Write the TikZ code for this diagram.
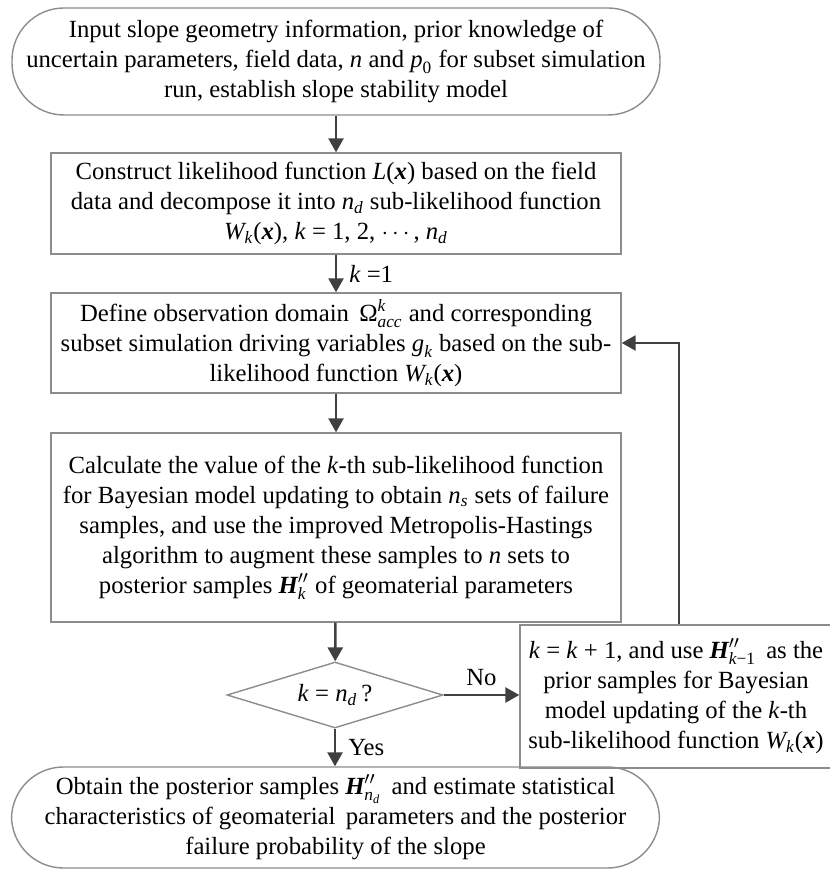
\documentclass[tikz,border=0pt]{standalone}
\usepackage{amsmath}
\usepackage{fontspec}
\setmainfont{Liberation Serif}
\usetikzlibrary{shapes.geometric}
\usetikzlibrary{arrows.meta}
\definecolor{boxgray}{RGB}{140,140,140}
\definecolor{arrowgray}{RGB}{64,64,64}
\newcommand{\mi}[1]{\text{\itshape #1}}
\newcommand{\mb}[1]{\text{\bfseries\itshape #1}}
\newcommand{\vx}{(\textbf{\textit{x}})}
\newcommand{\Hpp}[1]{$\mb{H}''_{#1}$}

\begin{document}
\begin{tikzpicture}[x=0.5pt, y=-0.5pt, >={Triangle[length=7pt,width=7.5pt]}]
    \fontsize{12.35pt}{15pt}\selectfont

    \tikzstyle{blk} = [rectangle, draw=boxgray, line width=0.7pt, align=center, inner sep=0pt, minimum width=285pt]
    \tikzstyle{term} = [blk, rounded corners=26pt, minimum width=324pt]
    \tikzstyle{dec} = [diamond, draw=boxgray, line width=0.7pt, aspect=3.3, inner sep=0pt, minimum width=108pt, minimum height=33pt]
    \tikzstyle{lab} = [rectangle, inner sep=2pt]
    \tikzstyle{connector} = [->, draw=arrowgray, line width=1.3pt]

    \useasboundingbox (0,0) rectangle (829,871);

    % Node placement at coordinates %%%%%%%%%%%%%%%%%%%%%%%%%%%%%%%%%%%%%%%%%%%%%%%%%%%%%
    \node[term, minimum height=53.5pt] (start) at (336,61.5)
      {Input slope geometry information, prior knowledge of\\
       uncertain parameters, field data, \textit{n} and $\mi{p}_{\text{0}}$ for subset simulation\\
       run, establish slope stability model};

    \node[blk, minimum height=50.5pt] (like) at (336,203.5)
      {Construct likelihood function \textit{L}\vx{} based on the field\\
       data and decompose it into $\mi{n}_{\mi{d}}$ sub-likelihood function\\
       $\mi{W}_{\mi{k}}$\vx, \textit{k} = 1, 2, $\cdots$, $\mi{n}_{\mi{d}}$};

    \node[blk, minimum height=50pt] (domain) at (336,343)
      {Define observation domain \,$\text{Ω}^{\mi{k}}_{\mi{acc}}$ and corresponding\\
       subset simulation driving variables $\mi{g}_{\mi{k}}$ based on the sub-\\
       likelihood function $\mi{W}_{\mi{k}}$\vx};

    \node[blk, minimum height=94.5pt] (update) at (336,527.5)
      {Calculate the value of the \textit{k}-th sub-likelihood function\\
       for Bayesian model updating to obtain $\mi{n}_{\mi{s}}$ sets of failure\\
       samples, and use the improved Metropolis-Hastings\\
       algorithm to augment these samples to \textit{n} sets to\\
       posterior samples \Hpp{\mi{k}} of geomaterial parameters};

    \node[dec] (check) at (335,695) {\textit{k} = $\mi{n}_{\mi{d}}$\,?};

    \node[blk, minimum width=156pt, minimum height=71.5pt] (next) at (676,696.5)
      {\textit{k} = \textit{k} + 1, and use \Hpp{\mi{k}\text{−1}} \,as the\\
       prior samples for Bayesian\\
       model updating of the \textit{k}-th\\
       sub-likelihood function $\mi{W}_{\mi{k}}$\vx};

    \node[term, minimum height=50.5pt] (finish) at (335.5,817.5)
      {Obtain the posterior samples \Hpp{\mi{n}_{\mi{d}}} \,and estimate statistical\\
       characteristics of geomaterial \,parameters and the posterior\\
       failure probability of the slope};

    % Now link the nodes %%%%%%%%%%%%%%%%%%%%%%%%%%%%%%%%%%%%%%%%%%%%%%%%%%%%%%%%%%%%%%%%
    \draw [connector] (start) -- (start.south |- like.north);
    \draw [connector] (like) -- (like.south |- domain.north) node[lab, midway, right, xshift=4pt] {\textit{k} =1};
    \draw [connector] (domain) -- (update);
    \draw [connector] (update) -- (check);
    \draw [connector] (check.east) -- (check.east -| next.west) node[lab, midway, above, yshift=2pt] {No};
    \draw [connector] (check) -- (check.south |- finish.north) node[lab, midway, right, xshift=4pt] {Yes};
    \draw [connector] ([xshift=1.5pt]next.north) |- (domain.east);

\end{tikzpicture}
\end{document}
